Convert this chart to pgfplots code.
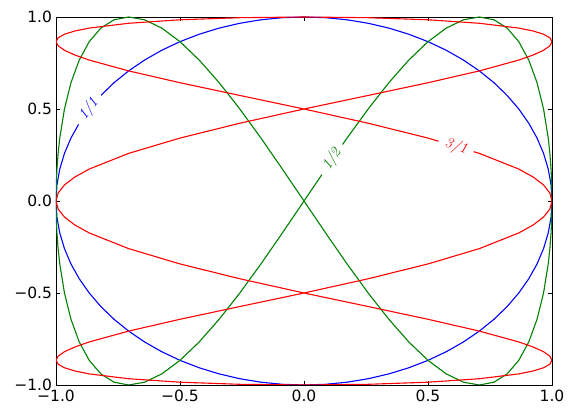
\documentclass[border=0pt]{standalone}
\usepackage{fontspec}
\setmainfont{DejaVu Sans}
\usepackage{pgfplots}
\pgfplotsset{compat=1.18}
\definecolor{mplgreen}{rgb}{0,0.5,0}
\newcommand{\lbl}[1]{{\fontfamily{lmr}\fontshape{it}\fontsize{15}{17}\selectfont #1}}
\begin{document}
\begin{tikzpicture}
\useasboundingbox (-56pt,-32pt) rectangle (519pt,385pt);
\begin{axis}[
  at={(0pt,0pt)}, anchor=south west,
  scale only axis, width=496pt, height=368pt,
  xmin=-1, xmax=1, ymin=-1, ymax=1,
  xtick={-1,-0.5,0,0.5,1}, ytick={-1,-0.5,0,0.5,1},
  xticklabels={−1.0,−0.5,0.0,0.5,1.0},
  yticklabels={−1.0,−0.5,0.0,0.5,1.0},
  tick align=inside, major tick length=4.4pt,
  minor tick num=0,
  tick label style={font=\fontsize{15.5}{17}\selectfont},
  xticklabel style={yshift=-1pt},
  yticklabel style={xshift=-0.5pt},
  axis line style={line width=0.9pt},
  every tick/.style={black, line width=0.8pt},
  clip=true,
]
% blue 1/1
\addplot[blue, line width=1.1pt] coordinates {
(1,0)(0.9962,0.0872)(0.9848,0.1736)(0.9659,0.2588)(0.9397,0.3420)(0.9063,0.4226)(0.8660,0.5)(0.8192,0.5736)(0.7660,0.6428)(0.7071,0.7071)(0.6428,0.7660)(0.5736,0.8192)(0.5,0.8660)(0.4226,0.9063)(0.3420,0.9397)(0.2588,0.9659)(0.1736,0.9848)(0.0872,0.9962)(0,1)
(-0.0872,0.9962)(-0.1736,0.9848)(-0.2588,0.9659)(-0.3420,0.9397)(-0.4226,0.9063)(-0.5,0.8660)(-0.5736,0.8192)(-0.6428,0.7660)(-0.7071,0.7071)(-0.7660,0.6428)(-0.8192,0.5736)(-0.8660,0.5)(-0.9063,0.4226)(-0.9397,0.3420)(-0.9659,0.2588)(-0.9848,0.1736)(-0.9962,0.0872)(-1,0)
(-0.9962,-0.0872)(-0.9848,-0.1736)(-0.9659,-0.2588)(-0.9397,-0.3420)(-0.9063,-0.4226)(-0.8660,-0.5)(-0.8192,-0.5736)(-0.7660,-0.6428)(-0.7071,-0.7071)(-0.6428,-0.7660)(-0.5736,-0.8192)(-0.5,-0.8660)(-0.4226,-0.9063)(-0.3420,-0.9397)(-0.2588,-0.9659)(-0.1736,-0.9848)(-0.0872,-0.9962)(0,-1)
(0.0872,-0.9962)(0.1736,-0.9848)(0.2588,-0.9659)(0.3420,-0.9397)(0.4226,-0.9063)(0.5,-0.8660)(0.5736,-0.8192)(0.6428,-0.7660)(0.7071,-0.7071)(0.7660,-0.6428)(0.8192,-0.5736)(0.8660,-0.5)(0.9063,-0.4226)(0.9397,-0.3420)(0.9659,-0.2588)(0.9848,-0.1736)(0.9962,-0.0872)(1,0)
};
% green 1/2
\addplot[mplgreen, line width=1.1pt] coordinates {
(0,0)(0.0872,0.1736)(0.1736,0.3420)(0.2588,0.5)(0.3420,0.6428)(0.4226,0.7660)(0.5,0.8660)(0.5736,0.9397)(0.6428,0.9848)(0.7071,1)(0.7660,0.9848)(0.8192,0.9397)(0.8660,0.8660)(0.9063,0.7660)(0.9397,0.6428)(0.9659,0.5)(0.9848,0.3420)(0.9914,0.2588)(0.9962,0.1736)(0.9990,0.0872)(1,0)
(0.9990,-0.0872)(0.9962,-0.1736)(0.9914,-0.2588)(0.9848,-0.3420)(0.9659,-0.5)(0.9397,-0.6428)(0.9063,-0.7660)(0.8660,-0.8660)(0.8192,-0.9397)(0.7660,-0.9848)(0.7071,-1)(0.6428,-0.9848)(0.5736,-0.9397)(0.5,-0.8660)(0.4226,-0.7660)(0.3420,-0.6428)(0.2588,-0.5)(0.1736,-0.3420)(0.0872,-0.1736)(0,0)
(-0.0872,0.1736)(-0.1736,0.3420)(-0.2588,0.5)(-0.3420,0.6428)(-0.4226,0.7660)(-0.5,0.8660)(-0.5736,0.9397)(-0.6428,0.9848)(-0.7071,1)(-0.7660,0.9848)(-0.8192,0.9397)(-0.8660,0.8660)(-0.9063,0.7660)(-0.9397,0.6428)(-0.9659,0.5)(-0.9848,0.3420)(-0.9914,0.2588)(-0.9962,0.1736)(-0.9990,0.0872)(-1,0)
(-0.9990,-0.0872)(-0.9962,-0.1736)(-0.9914,-0.2588)(-0.9848,-0.3420)(-0.9659,-0.5)(-0.9397,-0.6428)(-0.9063,-0.7660)(-0.8660,-0.8660)(-0.8192,-0.9397)(-0.7660,-0.9848)(-0.7071,-1)(-0.6428,-0.9848)(-0.5736,-0.9397)(-0.5,-0.8660)(-0.4226,-0.7660)(-0.3420,-0.6428)(-0.2588,-0.5)(-0.1736,-0.3420)(-0.0872,-0.1736)(0,0)
};
% red 3/1
\addplot[red, line width=1.1pt] coordinates {
(0,1)(0.2588,0.9962)(0.5,0.9848)(0.7071,0.9659)(0.8660,0.9397)(0.9239,0.9239)(0.9659,0.9063)(0.9914,0.8870)(1,0.8660)(0.9914,0.8434)(0.9659,0.8192)(0.9239,0.7934)(0.8660,0.7660)(0.7071,0.7071)(0.5,0.6428)(0.2588,0.5736)(0,0.5)
(-0.2588,0.4226)(-0.5,0.3420)(-0.7071,0.2588)(-0.8660,0.1736)(-0.9239,0.1305)(-0.9659,0.0872)(-0.9914,0.0436)(-1,0)(-0.9914,-0.0436)(-0.9659,-0.0872)(-0.9239,-0.1305)(-0.8660,-0.1736)(-0.7071,-0.2588)(-0.5,-0.3420)(-0.2588,-0.4226)(0,-0.5)
(0.2588,-0.5736)(0.5,-0.6428)(0.7071,-0.7071)(0.8660,-0.7660)(0.9239,-0.7934)(0.9659,-0.8192)(0.9914,-0.8434)(1,-0.8660)(0.9914,-0.8870)(0.9659,-0.9063)(0.9239,-0.9239)(0.8660,-0.9397)(0.7071,-0.9659)(0.5,-0.9848)(0.2588,-0.9962)(0,-1)
(-0.2588,-0.9962)(-0.5,-0.9848)(-0.7071,-0.9659)(-0.8660,-0.9397)(-0.9239,-0.9239)(-0.9659,-0.9063)(-0.9914,-0.8870)(-1,-0.8660)(-0.9914,-0.8434)(-0.9659,-0.8192)(-0.9239,-0.7934)(-0.8660,-0.7660)(-0.7071,-0.7071)(-0.5,-0.6428)(-0.2588,-0.5736)(0,-0.5)
(0.2588,-0.4226)(0.5,-0.3420)(0.7071,-0.2588)(0.8660,-0.1736)(0.9239,-0.1305)(0.9659,-0.0872)(0.9914,-0.0436)(1,0)(0.9914,0.0436)(0.9659,0.0872)(0.9239,0.1305)(0.8660,0.1736)(0.7071,0.2588)(0.5,0.3420)(0.2588,0.4226)(0,0.5)
(-0.2588,0.5736)(-0.5,0.6428)(-0.7071,0.7071)(-0.8660,0.7660)(-0.9239,0.7934)(-0.9659,0.8192)(-0.9914,0.8434)(-1,0.8660)(-0.9914,0.8870)(-0.9659,0.9063)(-0.9239,0.9239)(-0.8660,0.9397)(-0.7071,0.9659)(-0.5,0.9848)(-0.2588,0.9962)(0,1)
};
\node[fill=white, inner xsep=7pt, inner ysep=0.5pt, rotate=52, text=blue] at (axis cs:-0.868,0.5) {\lbl{1/1}};
\node[fill=white, inner xsep=7pt, inner ysep=0.5pt, rotate=57, text=mplgreen] at (axis cs:0.113,0.226) {\lbl{1/2}};
\node[fill=white, inner xsep=7pt, inner ysep=0.5pt, rotate=-16.6, text=red] at (axis cs:0.613,0.296) {\lbl{3/1}};
\end{axis}
\end{tikzpicture}
\end{document}
